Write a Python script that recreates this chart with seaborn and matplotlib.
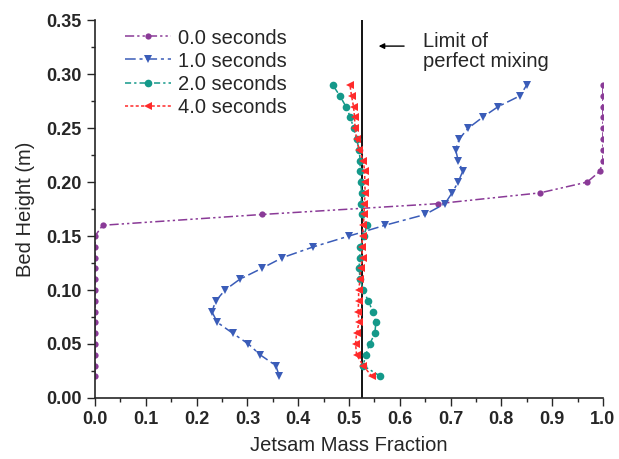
import numpy as np
import pandas as pd
import matplotlib
matplotlib.use("Agg")
import matplotlib.pyplot as plt
from matplotlib.ticker import MultipleLocator
import seaborn as sns

# bed heights (m), same for every time
heights = [0.02, 0.03, 0.04, 0.05, 0.06, 0.07, 0.08, 0.09, 0.10, 0.11,
           0.12, 0.13, 0.14, 0.15, 0.16, 0.17, 0.18, 0.19, 0.20, 0.21,
           0.22, 0.23, 0.24, 0.25, 0.26, 0.27, 0.28, 0.29]

t0 = [0.0, 0.0, 0.0, 0.0, 0.0, 0.0, 0.0, 0.0, 0.0, 0.0,
      0.0, 0.0, 0.0, 0.0, 0.015, 0.329, 0.675, 0.876, 0.969, 0.994,
      1.0, 1.0, 1.0, 1.0, 1.0, 1.0, 1.0, 1.0]
t1 = [0.363, 0.356, 0.325, 0.302, 0.271, 0.241, 0.230, 0.238, 0.256, 0.285,
      0.328, 0.369, 0.430, 0.500, 0.571, 0.650, 0.689, 0.703, 0.715, 0.724,
      0.715, 0.710, 0.717, 0.735, 0.763, 0.794, 0.837, 0.850]
t2 = [0.562, 0.528, 0.533, 0.541, 0.551, 0.553, 0.547, 0.538, 0.528, 0.522,
      0.520, 0.521, 0.522, 0.530, 0.535, 0.526, 0.524, 0.525, 0.523, 0.522,
      0.522, 0.520, 0.515, 0.509, 0.503, 0.494, 0.482, 0.468]
t4 = [0.545, 0.528, 0.515, 0.513, 0.515, 0.520, 0.518, 0.519, 0.519, 0.522,
      0.523, 0.527, 0.525, 0.527, 0.528, 0.530, 0.530, 0.532, 0.531, 0.531,
      0.528, 0.520, 0.515, 0.512, 0.511, 0.509, 0.505, 0.502]

labels = ["0.0 seconds", "1.0 seconds", "2.0 seconds", "4.0 seconds"]
perfect_mixing = 0.525

sns.set_style("ticks")
plt.rcParams["font.family"] = ["Liberation Sans", "DejaVu Sans"]

fig = plt.figure(figsize=(6.19, 4.59), dpi=100)
ax = fig.add_axes([0.1535, 0.133, 0.8205, 0.823])

styles = [
    dict(color="#8a3a97", marker="o", markersize=4.5, linestyle=(0, (6, 2, 1.5, 2, 1.5, 2))),
    dict(color="#3a5cb8", marker="v", markersize=5.5, linestyle=(0, (7, 2.5, 2, 2.5))),
    dict(color="#14998a", marker="o", markersize=5.5, linestyle=(0, (4, 2, 1.5, 2))),
    dict(color="#ff2a2a", marker="<", markersize=5.5, linestyle=(0, (2, 1.5))),
]

for vals, lab, st in zip([t0, t1, t2, t4], labels, styles):
    df = pd.DataFrame({"frac": vals, "h": heights})
    sns.lineplot(data=df, x="frac", y="h", sort=False, estimator=None, ax=ax,
                 label=lab, color=st["color"], marker=st["marker"],
                 markersize=st["markersize"], markeredgewidth=0,
                 linewidth=1.1, dashes=False)
    ax.lines[-1].set_linestyle(st["linestyle"])

ax.axvline(perfect_mixing, color="black", linewidth=1.3, zorder=1)

ax.annotate("", xy=(0.553, 0.326), xytext=(0.614, 0.326),
            arrowprops=dict(arrowstyle="-|>", color="black", lw=1.0,
                            mutation_scale=8))
ax.text(0.645, 0.303, "Limit of\nperfect mixing", fontsize=14.5,
        ha="left", va="bottom", linespacing=1.05)

ax.set_xlim(0, 1.0)
ax.set_ylim(0, 0.35)
ax.xaxis.set_major_locator(MultipleLocator(0.1))
ax.xaxis.set_minor_locator(MultipleLocator(0.05))
ax.yaxis.set_major_locator(MultipleLocator(0.05))
ax.yaxis.set_minor_locator(MultipleLocator(0.025))
ax.set_xticklabels([f"{v:.1f}" for v in ax.get_xticks()])
ax.set_yticklabels([f"{v:.2f}" for v in ax.get_yticks()])
ax.tick_params(axis="both", which="major", length=6, width=1, labelsize=13)
ax.tick_params(axis="both", which="minor", length=3, width=1)
for lbl in ax.get_xticklabels() + ax.get_yticklabels():
    lbl.set_fontweight("bold")

ax.set_xlabel("Jetsam Mass Fraction", fontsize=14.5, labelpad=6)
ax.set_ylabel("Bed Height (m)", fontsize=14.5, labelpad=8)
sns.despine(ax=ax)
for sp in ["left", "bottom"]:
    ax.spines[sp].set_linewidth(1.2)

leg = ax.legend(loc="upper left", bbox_to_anchor=(0.035, 1.01), frameon=False,
                fontsize=14.5, handlelength=2.3, labelspacing=0.2,
                handletextpad=0.35, borderaxespad=0.2)

fig.savefig("out.png", dpi=100)
